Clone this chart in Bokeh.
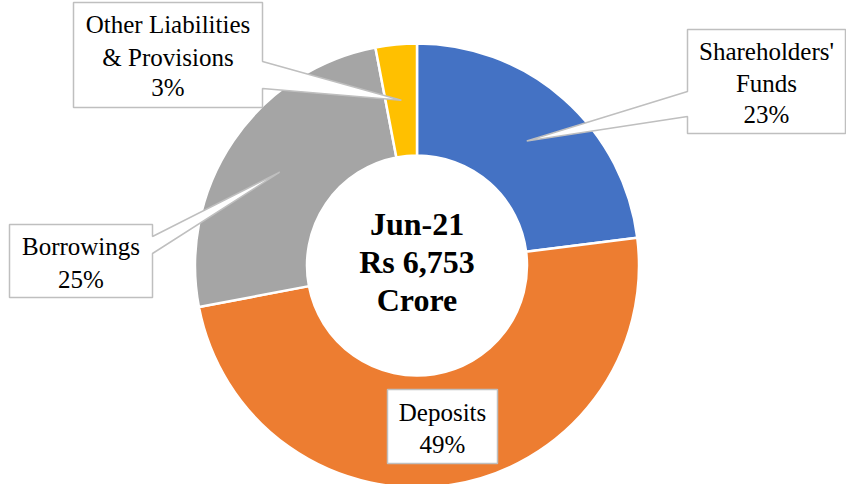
import numpy as np
from bokeh.plotting import figure
from bokeh.models import Range1d
from bokeh.core.properties import value
from bokeh.embed import file_html
from bokeh.resources import INLINE

# ---- data ----
categories = ["Shareholders' Funds", "Deposits", "Borrowings", "Other Liabilities & Provisions"]
shares = [23, 49, 25, 3]
colors = ["#4472C4", "#ED7D31", "#A5A5A5", "#FFC000"]
label_names = [["Shareholders'", "Funds"], ["Deposits"], ["Borrowings"], ["Other Liabilities", "& Provisions"]]
center_lines = ["Jun-21", "Rs 6,753", "Crore"]

FONT = value("Liberation Serif")

W, H = 846, 484
TEXT_SHIFT = 8  # compensate baseline offset

# page coordinates helper (data y = H - page y)
def Y(py):
    return H - py

p = figure(width=W, height=H, x_range=Range1d(0, W), y_range=Range1d(0, H),
           output_backend="svg", toolbar_location=None, min_border=0,
           x_axis_type=None, y_axis_type=None)
p.grid.visible = False
p.outline_line_color = None
p.background_fill_color = "white"

cx, cy = 416.5, Y(265)
r_in, r_out = 110, 222

fr = np.array(shares, dtype=float) / sum(shares)
ends_cum = np.cumsum(fr)
starts_cum = ends_cum - fr
start_angles = np.pi / 2 - starts_cum * 2 * np.pi
end_angles = np.pi / 2 - ends_cum * 2 * np.pi
mid_angles = (start_angles + end_angles) / 2

p.annular_wedge(x=cx, y=cy, inner_radius=r_in, outer_radius=r_out,
                start_angle=list(start_angles), end_angle=list(end_angles), direction="clock",
                fill_color=colors, line_color="white", line_width=2.5)

# callout tips at the ring middle along each slice's mid-angle
r_mid = (r_in + r_out) / 2
tips = [(cx + r_mid * np.cos(a), cy + r_mid * np.sin(a)) for a in mid_angles]

# callout boxes (page coords): left, top, right, bottom, pointer side, pointer y1, y2
boxes = [
    (687, 29, 845, 133, "left", 91, 116),     # Shareholders
    (387, 389, 497, 463, None, 0, 0),         # Deposits
    (9, 224, 152, 297, "right", 236, 253),    # Borrowings
    (73, 2, 262, 107, "right", 61, 88),       # Other
]
baselines = [
    [59, 91, 122],
    [420, 452],
    [254, 287],
    [32, 65, 95],
]

xs, ys = [], []
for (l, t, r, b, side, y1, y2), (tx, ty) in zip(boxes, tips):
    if side == "right":
        px = [l, r, r, tx, r, r, l]
        py = [Y(t), Y(t), Y(y1), ty, Y(y2), Y(b), Y(b)]
    elif side == "left":
        px = [l, r, r, l, l, tx, l]
        py = [Y(t), Y(t), Y(b), Y(b), Y(y2), ty, Y(y1)]
    else:
        px = [l, r, r, l]
        py = [Y(t), Y(t), Y(b), Y(b)]
    xs.append(px)
    ys.append(py)

p.patches(xs=xs, ys=ys, fill_color="white", line_color="#BFBFBF", line_width=1.5)

tx_, ty_, tt_ = [], [], []
for (l, t, r, b, *_), names, s, bl in zip(boxes, label_names, shares, baselines):
    lines = names + [f"{s}%"]
    for line, yb in zip(lines, bl):
        tx_.append((l + r) / 2)
        ty_.append(Y(yb - TEXT_SHIFT))
        tt_.append(line)
p.text(x=tx_, y=ty_, text=tt_, text_font=FONT, text_font_size="25px",
       text_align="center", text_baseline="alphabetic", text_color="black")

p.text(x=[cx] * 3, y=[Y(231 - TEXT_SHIFT), Y(269 - TEXT_SHIFT), Y(307 - TEXT_SHIFT)],
       text=center_lines, text_font=FONT,
       text_font_size="32px", text_font_style="bold", text_align="center",
       text_baseline="alphabetic", text_color="black")

open("out.html", "w").write(file_html(p, INLINE))
